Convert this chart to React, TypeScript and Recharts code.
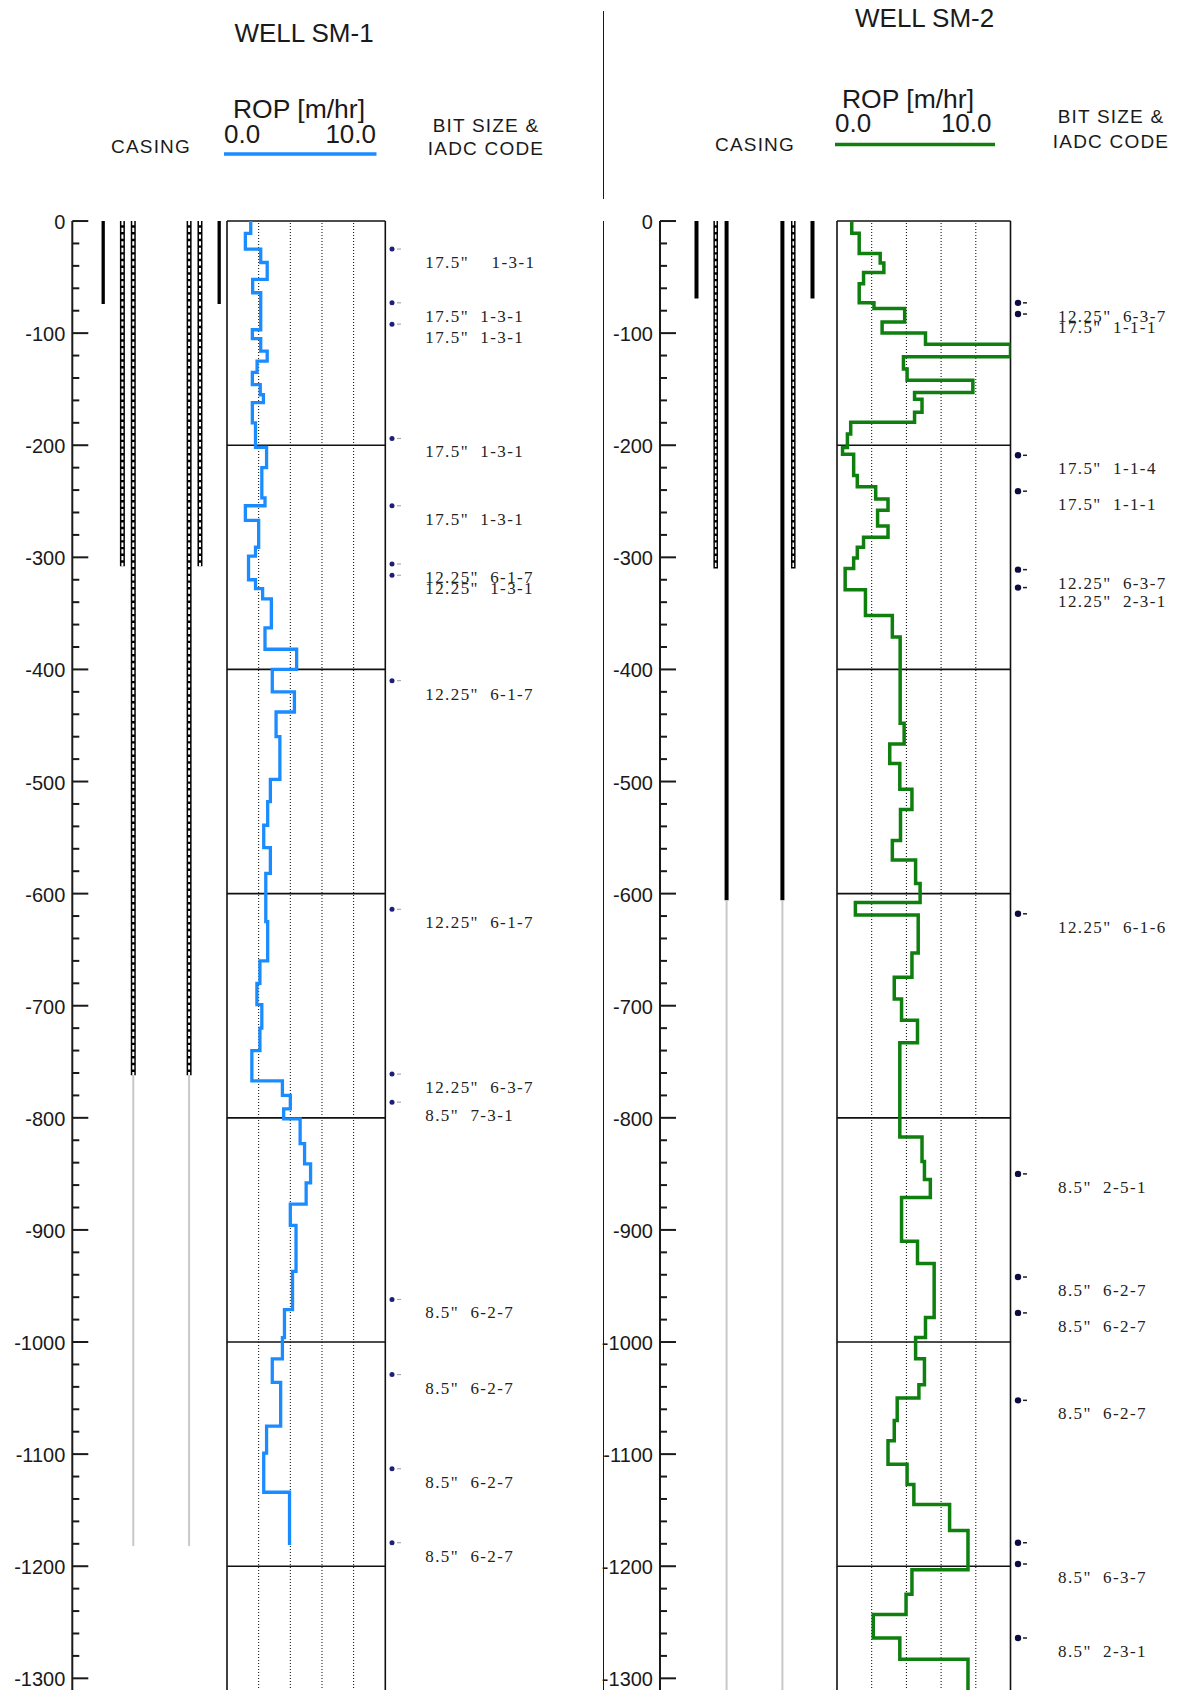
import React from 'react';
import { ComposedChart, LineChart, ScatterChart, Line, Scatter, XAxis, YAxis, ReferenceLine } from 'recharts';

// ---- depth scale shared by every track ----
const DEPTH_MIN = -1330;
const TOP = 221; // y of depth 0
const PX_PER_M = 1.121;
const CH = TOP + Math.round(-DEPTH_MIN * PX_PER_M);

const INK = '#1a1a1a';
const SANS = "'Liberation Sans', Arial, sans-serif";
const SERIF = "'Liberation Serif', 'Times New Roman', serif";

const depthMajor = [0, -100, -200, -300, -400, -500, -600, -700, -800, -900, -1000, -1100, -1200, -1300];
const depthTicks = depthMajor.flatMap((d) => [d, d - 20, d - 40, d - 60, d - 80]).filter((d) => d >= -1320);
const boxDepthLines = [-200, -400, -600, -800, -1000, -1200];
const ropGrid = [2, 4, 6, 8];

// ---- casing (OD in inches, shoe depths in m) ----
const casingOD = [20, 13.375, 9.625];
const shoeSM1 = [-74, -308, -762];
const shoeSM2 = [-69, -310, -606];
const linerSM1 = [-762, -1182];
const linerSM2 = [-606, -1330];

// ---- ROP step logs: value holds from this depth down to the next ----
const ropDepthSM1 = [0, -11, -25, -37, -52, -64, -97, -105, -116, -125, -135, -146, -155, -162, -180, -202, -220, -247, -254, -267, -291, -299, -320, -328, -337, -363, -382, -400, -420, -438, -460, -498, -518, -539, -559, -582, -625, -660, -680, -699, -720, -740, -767, -780, -792, -801, -823, -841, -858, -877, -896, -937, -971, -996, -1015, -1036, -1075, -1099, -1134, -1181];
const ropSM1 = [1.5, 1.16, 2.13, 2.54, 1.62, 2.13, 1.6, 2.13, 2.54, 1.9, 1.6, 2.1, 2.3, 1.6, 1.8, 2.5, 2.2, 2.4, 1.16, 2.0, 1.8, 1.36, 1.8, 2.25, 2.8, 2.4, 4.4, 2.86, 4.26, 3.1, 3.34, 2.74, 2.57, 2.32, 2.74, 2.45, 2.57, 2.08, 1.89, 2.2, 2.08, 1.57, 3.5, 4.0, 3.58, 4.62, 4.9, 5.28, 5.0, 4.0, 4.36, 4.14, 3.63, 3.5, 2.86, 3.39, 2.5, 2.32, 3.95, 3.95];

const ropDepthSM2 = [0, -11, -29, -37.5, -46, -56, -73, -78, -90, -100, -110, -121, -132, -142, -153, -159, -170.5, -179.5, -190, -202, -208, -227, -237, -248, -258, -272, -282, -291, -300.5, -310, -329, -352, -371, -448, -466.5, -484, -507, -525, -552.5, -570, -591, -608, -619, -653, -674.5, -694, -713, -733, -817, -839, -855, -871, -910, -930, -978, -996, -1015, -1038, -1050, -1070, -1088, -1109, -1127, -1145, -1168, -1203, -1225, -1243, -1264, -1283, -1330];
const ropSM2 = [0.85, 1.28, 2.49, 2.7, 1.53, 1.28, 2.13, 3.9, 2.6, 5.1, 10, 3.83, 4.04, 7.83, 4.47, 4.9, 4.47, 0.79, 0.6, 0.32, 0.96, 1.17, 2.23, 2.94, 2.34, 2.94, 1.53, 1.17, 0.96, 0.47, 1.64, 3.19, 3.64, 3.87, 3.04, 3.62, 4.32, 3.66, 3.19, 4.53, 4.79, 1.06, 4.68, 4.32, 3.3, 3.72, 4.64, 3.62, 4.9, 5.04, 5.38, 3.72, 4.64, 5.6, 5.1, 4.53, 5.04, 4.72, 3.47, 3.3, 2.94, 4.04, 4.43, 6.49, 7.55, 4.32, 3.98, 2.09, 3.62, 7.55, 7.55];

// ---- bit runs ----
const bitDepthSM1 = [-25, -73, -92, -194, -254, -306, -316, -410, -614, -761, -786, -962, -1029, -1113, -1179];
const bitLabelSM1 = ['17.5"    1-3-1', '17.5"  1-3-1', '17.5"  1-3-1', '17.5"  1-3-1', '17.5"  1-3-1', '12.25"  6-1-7', '12.25"  1-3-1', '12.25"  6-1-7', '12.25"  6-1-7', '12.25"  6-3-7', '8.5"  7-3-1', '8.5"  6-2-7', '8.5"  6-2-7', '8.5"  6-2-7', '8.5"  6-2-7'];
const bitDepthSM2 = [-73, -83, -209, -241, -311, -327, -618, -850, -942, -974, -1052, -1179, -1198, -1264];
const bitLabelSM2 = ['12.25"  6-3-7', '17.5"  1-1-1', '17.5"  1-1-4', '17.5"  1-1-1', '12.25"  6-3-7', '12.25"  2-3-1', '12.25"  6-1-6', '8.5"  2-5-1', '8.5"  6-2-7', '8.5"  6-2-7', '8.5"  6-2-7', '', '8.5"  6-3-7', '8.5"  2-3-1'];

const DepthTick = (props: any) => {
  const { x, y, payload } = props;
  const major = payload.value % 100 === 0;
  return (
    <g>
      <line x1={x} x2={x + (major ? 16 : 7)} y1={y} y2={y} stroke={INK} strokeWidth={2} />
      {major && (
        <text x={x - 7} y={y + 8} textAnchor="end" fontSize={20} fontFamily={SANS} fill={INK}>
          {payload.value}
        </text>
      )}
    </g>
  );
};

const PX_IN = 5.8; // px per inch of casing radius

function CasingTrack({ left, axisX, centerX, plotRight, shoes, styles, liner, solidW, ladderW }: any) {
  const width = plotRight - left + 4;
  const domain = [-(centerX - axisX) / PX_IN, (plotRight - centerX) / PX_IN];
  const walls: any[] = [];
  casingOD.forEach((od, i) => {
    [-1, 1].forEach((side) => {
      const pts = [{ x: (side * od) / 2, d: 0 }, { x: (side * od) / 2, d: shoes[i] }];
      if (styles[i] === 'solid') {
        walls.push(<Line key={`s${i}${side}`} data={pts} dataKey="x" type="linear" stroke="#000" strokeWidth={solidW} dot={false} isAnimationActive={false} />);
      } else {
        walls.push(<Line key={`o${i}${side}`} data={pts} dataKey="x" type="linear" stroke="#000" strokeWidth={ladderW} dot={false} isAnimationActive={false} />);
        walls.push(<Line key={`w${i}${side}`} data={pts} dataKey="x" type="linear" stroke="#fff" strokeWidth={ladderW - 3} strokeDasharray="4.3 2.4" dot={false} isAnimationActive={false} />);
      }
    });
  });
  const innerOD = casingOD[casingOD.length - 1];
  [-1, 1].forEach((side) => {
    const pts = [{ x: (side * innerOD) / 2, d: liner[0] }, { x: (side * innerOD) / 2, d: liner[1] }];
    walls.push(<Line key={`g${side}`} data={pts} dataKey="x" type="linear" stroke="#c8c8c8" strokeWidth={2} dot={false} isAnimationActive={false} />);
  });
  return (
    <div style={{ position: 'absolute', left, top: 0 }}>
      <ComposedChart layout="vertical" width={width} height={CH} margin={{ top: TOP, right: 4, bottom: 0, left: 0 }}>
        <XAxis type="number" domain={domain} hide allowDataOverflow />
        <YAxis
          type="number"
          dataKey="d"
          domain={[DEPTH_MIN, 0]}
          reversed
          allowDataOverflow
          ticks={depthTicks}
          interval={0}
          width={axisX - left}
          tickLine={false}
          tickSize={0}
          tickMargin={0}
          axisLine={{ stroke: INK, strokeWidth: 2 }}
          tick={DepthTick}
        />
        {walls}
      </ComposedChart>
    </div>
  );
}

function RopTrack({ plotLeft, plotRight, depths, values, color, sw }: any) {
  const data = depths.map((d: number, i: number) => ({ d, rop: values[i] }));
  const m = 8;
  return (
    <div style={{ position: 'absolute', left: plotLeft - m, top: 0 }}>
      <LineChart layout="vertical" data={data} width={plotRight - plotLeft + 2 * m} height={CH} margin={{ top: TOP, right: m, bottom: 0, left: m }}>
        <XAxis type="number" domain={[0, 10]} hide allowDataOverflow />
        <YAxis type="number" dataKey="d" domain={[DEPTH_MIN, 0]} reversed hide allowDataOverflow />
        {ropGrid.map((v) => (
          <ReferenceLine key={`g${v}`} x={v} stroke="#000" strokeWidth={1} strokeDasharray="1 2" />
        ))}
        {boxDepthLines.map((v) => (
          <ReferenceLine key={`h${v}`} y={v} stroke="#111" strokeWidth={1.6} />
        ))}
        <ReferenceLine x={0} stroke="#111" strokeWidth={1.6} />
        <ReferenceLine x={10} stroke="#111" strokeWidth={1.6} />
        <ReferenceLine y={0} stroke="#111" strokeWidth={1.6} />
        <Line dataKey="rop" type="stepBefore" stroke={color} strokeWidth={sw} dot={false} isAnimationActive={false} strokeLinejoin="miter" />
      </LineChart>
    </div>
  );
}

function BitTrack({ dotX, depths, labels, textDx, big }: any) {
  const data = depths.map((d: number, i: number) => ({ x: 0, d, label: labels[i] }));
  const m = 6;
  const shape = (p: any) => {
    const { cx, cy, payload } = p;
    return (
      <g>
        <circle cx={cx} cy={cy} r={big ? 3.2 : 2.5} fill={big ? '#0c0c40' : '#1e1e78'} />
        <line x1={cx + 5} x2={cx + 9} y1={cy} y2={cy} stroke={big ? '#222' : '#aaa'} strokeWidth={big ? 1.5 : 1.2} />
        {payload.label ? (
          <text x={cx + textDx} y={cy + 19} fontSize={17} fontFamily={SERIF} fill="#222" letterSpacing={1.4} xmlSpace="preserve" style={{ whiteSpace: 'pre' }}>
            {payload.label}
          </text>
        ) : null}
      </g>
    );
  };
  return (
    <div style={{ position: 'absolute', left: dotX - m, top: 0 }}>
      <ScatterChart width={175} height={CH} margin={{ top: TOP, right: 0, bottom: 0, left: m }}>
        <XAxis type="number" dataKey="x" domain={[0, 1]} hide />
        <YAxis type="number" dataKey="d" domain={[DEPTH_MIN, 0]} hide />
        <Scatter data={data} shape={shape} isAnimationActive={false} />
      </ScatterChart>
    </div>
  );
}

function Header() {
  const t = (x: number, y: number, s: string, size: number, anchor = 'middle', ls = 0) => (
    <text x={x} y={y} textAnchor={anchor as any} fontSize={size} fontFamily={SANS} fill={INK} letterSpacing={ls}>
      {s}
    </text>
  );
  return (
    <svg width={1179} height={215} style={{ position: 'absolute', left: 0, top: 0 }}>
      {t(304, 41.6, 'WELL SM-1', 26)}
      {t(299, 117.5, 'ROP [m/hr]', 26.5)}
      {t(224, 142.5, '0.0', 26, 'start')}
      {t(376, 142.5, '10.0', 26, 'end')}
      <line x1={224} x2={376.5} y1={154} y2={154} stroke="#1a8cff" strokeWidth={3.3} />
      {t(151, 152.6, 'CASING', 19, 'middle', 1.2)}
      {t(486, 131.8, 'BIT SIZE &', 19, 'middle', 1.2)}
      {t(486, 155, 'IADC CODE', 19, 'middle', 1.2)}

      {t(924.6, 27, 'WELL SM-2', 26)}
      {t(908, 107.5, 'ROP [m/hr]', 26.5)}
      {t(835, 131.5, '0.0', 26, 'start')}
      {t(991.5, 131.5, '10.0', 26, 'end')}
      <line x1={835} x2={995} y1={144.4} y2={144.4} stroke="#0f7f0f" strokeWidth={3.5} />
      {t(755, 151.2, 'CASING', 19, 'middle', 1.2)}
      {t(1111, 123, 'BIT SIZE &', 19, 'middle', 1.2)}
      {t(1111, 148, 'IADC CODE', 19, 'middle', 1.2)}
    </svg>
  );
}

export default function App() {
  return (
    <div style={{ position: 'fixed', left: 0, top: 0, width: 1179, height: 1690, overflow: 'hidden', background: '#fff' }}>
      <Header />
      <div style={{ position: 'absolute', left: 602.6, top: 11, width: 1.6, height: 188, background: INK }} />
      <div style={{ position: 'absolute', left: 602.6, top: TOP, width: 1.6, height: 1690 - TOP, background: INK }} />

      <CasingTrack left={0} axisX={72.3} centerX={161.2} plotRight={226.7} shoes={shoeSM1} styles={['solid', 'ladder', 'ladder']} liner={linerSM1} solidW={3.3} ladderW={5} />
      <RopTrack plotLeft={226.7} plotRight={385} depths={ropDepthSM1} values={ropSM1} color="#1a8cff" sw={3.3} />
      <BitTrack dotX={391.7} depths={bitDepthSM1} labels={bitLabelSM1} textDx={33.3} big={false} />

      <CasingTrack left={596} axisX={660} centerX={754.5} plotRight={836.7} shoes={shoeSM2} styles={['solid', 'ladder', 'solid']} liner={linerSM2} solidW={4} ladderW={4.6} />
      <RopTrack plotLeft={836.7} plotRight={1010.2} depths={ropDepthSM2} values={ropSM2} color="#0f7f0f" sw={3.5} />
      <BitTrack dotX={1018} depths={bitDepthSM2} labels={bitLabelSM2} textDx={40} big={true} />
    </div>
  );
}
